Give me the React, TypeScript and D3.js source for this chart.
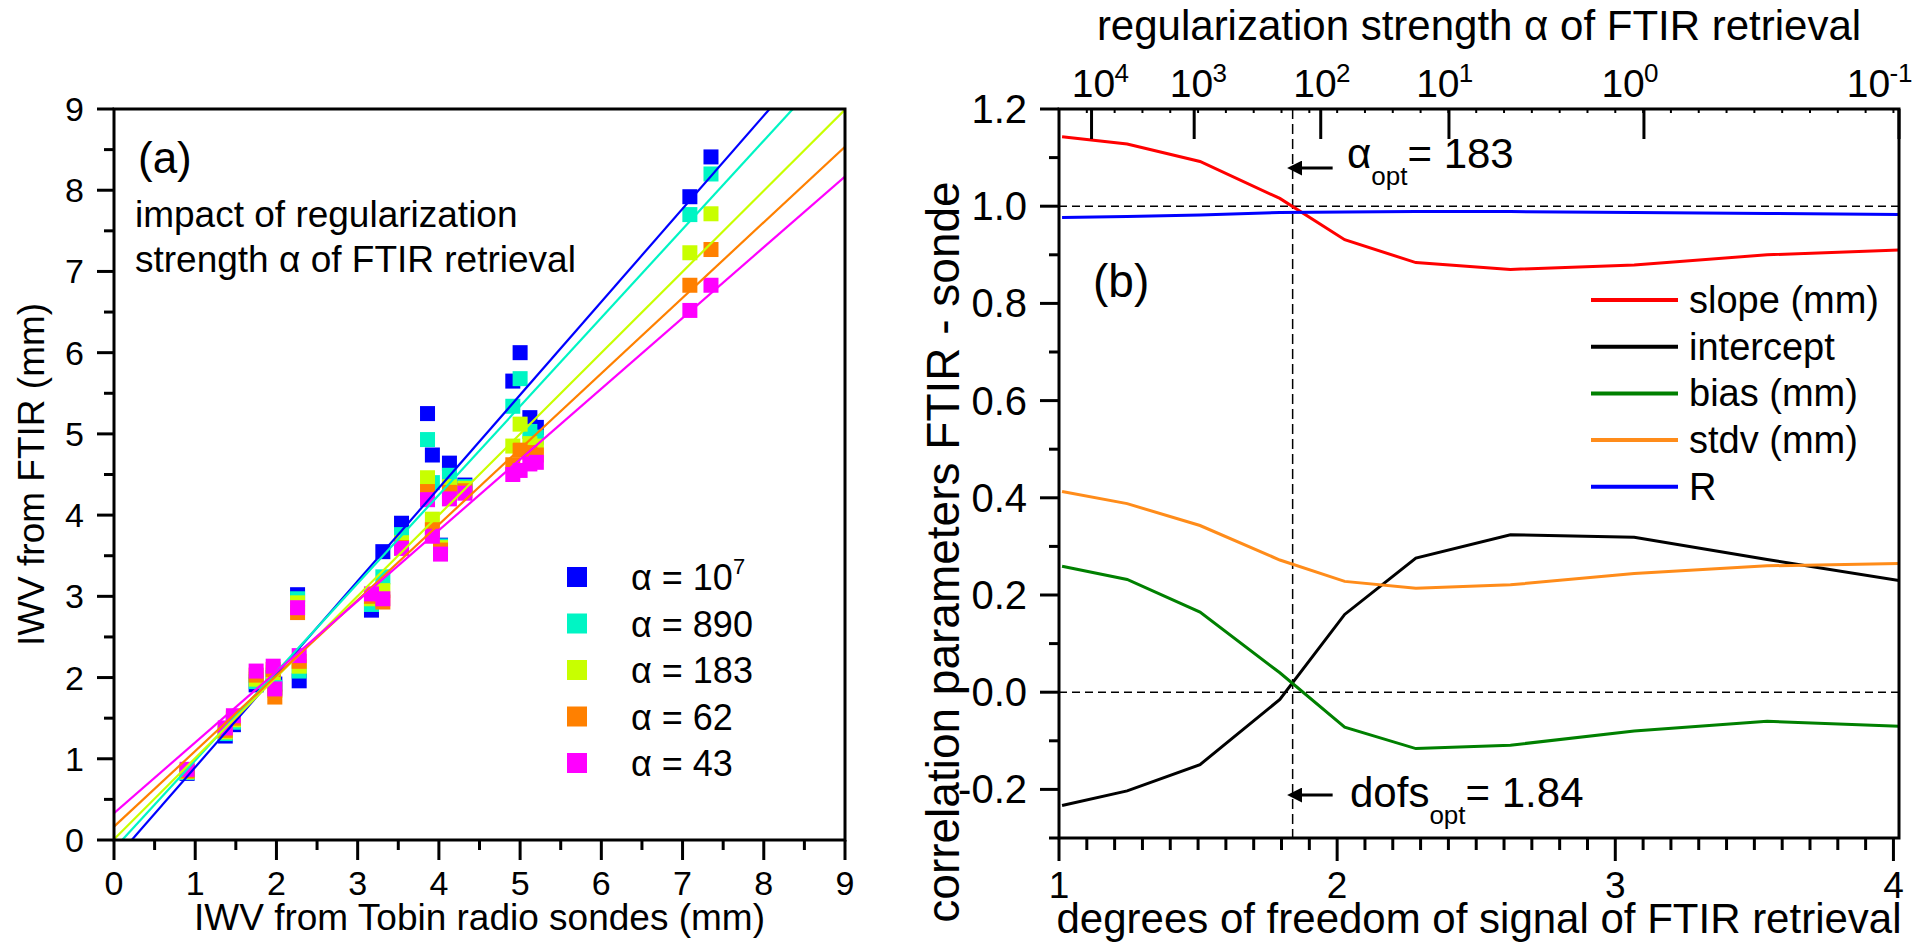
import * as d3 from "d3";

// ---------- panel (a): IWV scatter ----------
const sondeIwv = [0.9, 1.37, 1.47, 1.75, 1.96, 1.98, 2.26, 2.28, 3.17, 3.31, 3.54, 3.86, 3.92, 4.02, 4.13, 4.32, 4.91, 5.0, 5.12, 5.2, 7.09, 7.35];
const ftirA1e7 = [0.82, 1.28, 1.42, 1.91, 2.0, 1.92, 3.02, 1.96, 2.83, 3.55, 3.9, 5.25, 4.74, 3.63, 4.64, 4.37, 5.65, 6.0, 5.2, 5.08, 7.92, 8.41];
const ftirA890 = [0.83, 1.31, 1.45, 1.95, 2.03, 1.88, 2.97, 2.08, 2.9, 3.24, 3.76, 4.93, 4.4, 3.62, 4.49, 4.35, 5.34, 5.68, 5.03, 4.96, 7.7, 8.2];
const ftirA183 = [0.84, 1.33, 1.48, 1.98, 2.06, 1.84, 2.92, 2.14, 2.97, 3.07, 3.66, 4.46, 3.95, 3.6, 4.35, 4.33, 4.85, 5.12, 4.88, 4.85, 7.23, 7.71];
const ftirA62 = [0.85, 1.35, 1.5, 2.03, 2.1, 1.76, 2.8, 2.2, 3.0, 2.93, 3.6, 4.29, 3.82, 3.57, 4.28, 4.3, 4.62, 4.8, 4.77, 4.74, 6.83, 7.27];
const ftirA43 = [0.87, 1.38, 1.53, 2.08, 2.14, 1.86, 2.86, 2.27, 3.03, 2.97, 3.59, 4.19, 3.74, 3.52, 4.2, 4.27, 4.5, 4.55, 4.63, 4.65, 6.52, 6.83];

const alphaLabels = ["10", "890", "183", "62", "43"];
const alphaSup = ["7", "", "", "", ""];
const fitSlope = [1.146, 1.09, 0.998, 0.93, 0.871];
const fitIntercept = [-0.25, -0.11, 0.01, 0.165, 0.33];
const seriesColors = ["#0000ff", "#00f5c4", "#c8ff00", "#ff8000", "#ff00ff"];

// ---------- panel (b): correlation parameters vs dofs ----------
const dofs = [1.011, 1.245, 1.507, 1.794, 2.027, 2.283, 2.623, 3.068, 3.546, 4.02];
const slope = [1.143, 1.128, 1.092, 1.016, 0.931, 0.884, 0.87, 0.879, 0.9, 0.91];
const intercept = [-0.233, -0.203, -0.149, -0.015, 0.16, 0.276, 0.324, 0.319, 0.273, 0.23];
const bias = [0.259, 0.232, 0.165, 0.04, -0.072, -0.116, -0.109, -0.08, -0.06, -0.07];
const stdv = [0.413, 0.388, 0.343, 0.272, 0.228, 0.214, 0.221, 0.244, 0.26, 0.265];
const corrR = [0.977, 0.979, 0.982, 0.987, 0.988, 0.989, 0.989, 0.987, 0.985, 0.983];

const paramNames = ["slope (mm)", "intercept", "bias (mm)", "stdv (mm)", "R"];
const paramColors = ["#ff0000", "#000000", "#008000", "#ff8c1a", "#0000ff"];

// alpha axis on top: dofs position of each decade tick, and of its label
const alphaTickDofs = [1.117, 1.486, 1.941, 2.402, 3.103, 4.02];
const alphaLabelDofs = [1.124, 1.476, 1.92, 2.362, 3.028, 3.91];
const alphaTickExp = ["4", "3", "2", "1", "0", "-1"];

const yTicksB = [1.2, 1.0, 0.8, 0.6, 0.4, 0.2, 0.0, -0.2];
const yTickLabelsB = ["1.2", "1.0", "0.8", "0.6", "0.4", "0.2", "0.0", "-0.2"];
const xTicksB = [1, 2, 3, 4];

const dofsOpt = 1.84;

const FONT = "'Liberation Sans', Arial, sans-serif";

export default function App() {
  const xa = d3.scaleLinear().domain([0, 9]).range([114, 845]);
  const ya = d3.scaleLinear().domain([0, 9]).range([840, 109]);
  const xb = d3.scaleLinear().domain([1, 4.02]).range([1059, 1899]);
  const yb = d3.scaleLinear().domain([-0.3, 1.2]).range([838, 109]);

  const ftir = [ftirA1e7, ftirA890, ftirA183, ftirA62, ftirA43];
  const params = [slope, intercept, bias, stdv, corrR];

  const line = d3
    .line<number>()
    .x((_, i) => xb(dofs[i]))
    .y((d) => yb(d));

  const aTicks = d3.range(0, 9.01, 0.5);
  const bMinorX = d3.range(1, 4.001, 0.1);
  const bMinorY = d3.range(-0.3, 1.201, 0.1);

  const ms = 15;

  return (
    <svg
      width={1930}
      height={942}
      style={{ position: "absolute", left: 0, top: 0, background: "#fff" }}
      fontFamily={FONT}
    >
      <defs>
        <clipPath id="clipA">
          <rect x={xa(0)} y={ya(9)} width={xa(9) - xa(0)} height={ya(0) - ya(9)} />
        </clipPath>
        <clipPath id="clipB">
          <rect x={xb(1)} y={yb(1.2)} width={xb(4.02) - xb(1)} height={yb(-0.3) - yb(1.2)} />
        </clipPath>
        <marker id="arrow" viewBox="0 0 10 10" refX="1" refY="5" markerWidth="5" markerHeight="5" orient="auto-start-reverse">
          <path d="M0,0 L10,5 L0,10 z" fill="#000" />
        </marker>
      </defs>

      {/* ================= panel (a) ================= */}
      <g clipPath="url(#clipA)">
        {ftir.map((vals, s) =>
          vals.map((v, i) => (
            <rect
              key={`p${s}-${i}`}
              x={xa(sondeIwv[i]) - ms / 2}
              y={ya(v) - ms / 2}
              width={ms}
              height={ms}
              fill={seriesColors[s]}
            />
          ))
        )}
        {fitSlope.map((m, s) => {
          const b = fitIntercept[s];
          const x0 = Math.max(0, -b / m);
          const x1 = Math.min(9, (9 - b) / m);
          return (
            <line
              key={`f${s}`}
              x1={xa(x0)}
              y1={ya(m * x0 + b)}
              x2={xa(x1)}
              y2={ya(m * x1 + b)}
              stroke={seriesColors[s]}
              strokeWidth={2.2}
            />
          );
        })}
      </g>

      {/* axes (a) */}
      <rect x={xa(0)} y={ya(9)} width={xa(9) - xa(0)} height={ya(0) - ya(9)} fill="none" stroke="#000" strokeWidth={3} />
      {aTicks.map((t) => {
        const major = Math.abs(t - Math.round(t)) < 1e-6;
        return (
          <g key={`at${t}`}>
            <line x1={xa(t)} x2={xa(t)} y1={ya(0)} y2={ya(0) + (major ? 20 : 10)} stroke="#000" strokeWidth={3} />
            <line y1={ya(t)} y2={ya(t)} x1={xa(0)} x2={xa(0) - (major ? 17 : 10)} stroke="#000" strokeWidth={3} />
            {major && (
              <>
                <text x={xa(t)} y={895} fontSize={34} textAnchor="middle">
                  {t}
                </text>
                <text x={84} y={ya(t) + 12} fontSize={34} textAnchor="end">
                  {t}
                </text>
              </>
            )}
          </g>
        );
      })}
      <text x={(xa(0) + xa(9)) / 2} y={930} fontSize={37} textAnchor="middle">
        IWV from Tobin radio sondes (mm)
      </text>
      <text transform={`translate(44,${(ya(0) + ya(9)) / 2}) rotate(-90)`} fontSize={37} textAnchor="middle">
        IWV from FTIR (mm)
      </text>
      <text x={138} y={173} fontSize={44}>
        (a)
      </text>
      <text x={135} y={227} fontSize={37}>
        impact of regularization
      </text>
      <text x={135} y={272} fontSize={37}>
        strength α of FTIR retrieval
      </text>

      {/* legend (a) */}
      {alphaLabels.map((lab, s) => {
        const cy = 577 + s * 46.5;
        return (
          <g key={`la${s}`}>
            <rect x={567} y={cy - 10} width={20} height={20} fill={seriesColors[s]} />
            <text x={631} y={cy + 13} fontSize={36}>
              α = {lab}
              {alphaSup[s] && (
                <tspan dy={-16} fontSize={22}>
                  {alphaSup[s]}
                </tspan>
              )}
            </text>
          </g>
        );
      })}

      {/* ================= panel (b) ================= */}
      <g clipPath="url(#clipB)">
        <line x1={xb(1)} x2={xb(4.02)} y1={yb(1)} y2={yb(1)} stroke="#000" strokeWidth={1.5} strokeDasharray="8,5" />
        <line x1={xb(1)} x2={xb(4.02)} y1={yb(0)} y2={yb(0)} stroke="#000" strokeWidth={1.5} strokeDasharray="8,5" />
        <line x1={xb(dofsOpt)} x2={xb(dofsOpt)} y1={yb(1.2)} y2={yb(-0.3)} stroke="#000" strokeWidth={1.5} strokeDasharray="10,5" />
        {params.map((vals, s) => (
          <path key={`pl${s}`} d={line(vals) ?? ""} fill="none" stroke={paramColors[s]} strokeWidth={3} />
        ))}
      </g>

      {/* axes (b) */}
      <rect x={xb(1)} y={yb(1.2)} width={xb(4.02) - xb(1)} height={yb(-0.3) - yb(1.2)} fill="none" stroke="#000" strokeWidth={3} />
      {bMinorX.map((t, i) => {
        const major = i % 10 === 0;
        return (
          <g key={`bx${i}`}>
            <line x1={xb(t)} x2={xb(t)} y1={yb(-0.3)} y2={yb(-0.3) + (major ? 23 : 12)} stroke="#000" strokeWidth={3} />
            <line x1={xb(t)} x2={xb(t)} y1={yb(1.2)} y2={yb(1.2) + 4} stroke="#000" strokeWidth={2} />
          </g>
        );
      })}
      {xTicksB.map((t) => (
        <text key={`bxl${t}`} x={xb(t)} y={898} fontSize={37} textAnchor="middle">
          {t}
        </text>
      ))}
      {bMinorY.map((t, i) => (
        <line key={`by${i}`} x1={xb(1)} x2={xb(1) - (i % 2 === 1 ? 19 : 10)} y1={yb(t)} y2={yb(t)} stroke="#000" strokeWidth={3} />
      ))}
      {yTicksB.map((t, i) => (
        <text key={`byl${i}`} x={1027} y={yb(t) + 14} fontSize={40} textAnchor="end">
          {yTickLabelsB[i]}
        </text>
      ))}
      {alphaTickDofs.map((p, i) => (
        <g key={`at${i}`}>
          <line x1={xb(p)} x2={xb(p)} y1={yb(1.2)} y2={yb(1.2) + 30} stroke="#000" strokeWidth={3} />
          <text x={xb(alphaLabelDofs[i])} y={97} fontSize={39} textAnchor="middle">
            10
          </text>
          <text x={xb(alphaLabelDofs[i]) + 21} y={82} fontSize={26}>
            {alphaTickExp[i]}
          </text>
        </g>
      ))}
      <text x={(xb(1) + xb(4.02)) / 2} y={40} fontSize={42} textAnchor="middle">
        regularization strength α of FTIR retrieval
      </text>
      <text x={(xb(1) + xb(4.02)) / 2} y={933} fontSize={42} textAnchor="middle">
        degrees of freedom of signal of FTIR retrieval
      </text>
      <text transform={`translate(959,552) rotate(-90)`} fontSize={46} textAnchor="middle">
        correlation parameters FTIR - sonde
      </text>
      <text x={1093} y={297} fontSize={46}>
        (b)
      </text>

      {/* annotations */}
      <line x1={xb(dofsOpt) + 40} x2={xb(dofsOpt) + 8} y1={168} y2={168} stroke="#000" strokeWidth={3} markerEnd="url(#arrow)" />
      <text x={1347} y={168} fontSize={42}>
        α
        <tspan dy={17} fontSize={26}>
          opt
        </tspan>
        <tspan dy={-17}>= 183</tspan>
      </text>
      <line x1={xb(dofsOpt) + 40} x2={xb(dofsOpt) + 8} y1={795} y2={795} stroke="#000" strokeWidth={3} markerEnd="url(#arrow)" />
      <text x={1350} y={807} fontSize={42}>
        dofs
        <tspan dy={17} fontSize={26}>
          opt
        </tspan>
        <tspan dy={-17}>= 1.84</tspan>
      </text>

      {/* legend (b) */}
      {paramNames.map((n, s) => {
        const cy = 300 + s * 46.7;
        return (
          <g key={`lb${s}`}>
            <line x1={1591} x2={1678} y1={cy} y2={cy} stroke={paramColors[s]} strokeWidth={4} />
            <text x={1689} y={cy + 13} fontSize={38}>
              {n}
            </text>
          </g>
        );
      })}
    </svg>
  );
}
